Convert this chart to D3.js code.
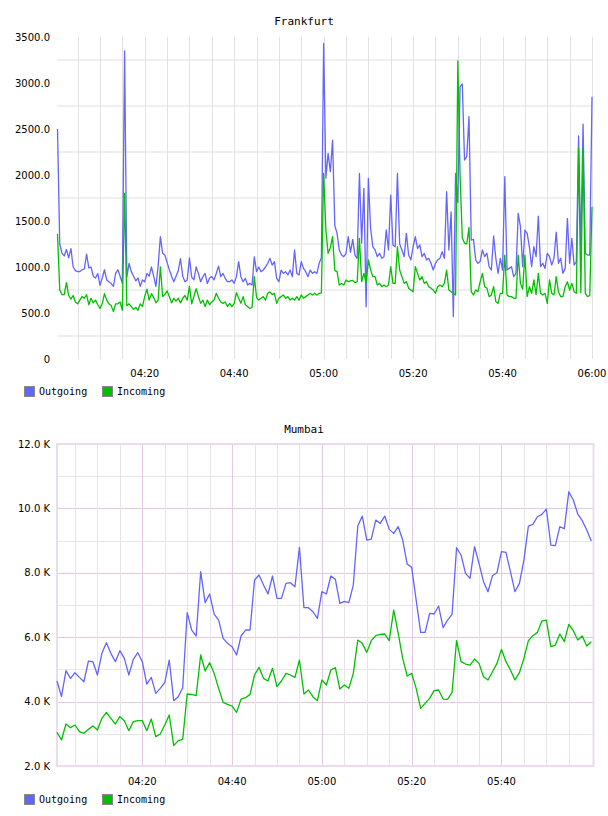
<!DOCTYPE html>
<html>
<head>
<meta charset="utf-8">
<script src="https://cdn.jsdelivr.net/npm/d3@7"></script>
<style>
    body { margin: 0; background: #fff; }
    .tick-label { font-family: "DejaVu Sans", sans-serif; font-size: 10px; fill: #000; }
    .title { font-family: "DejaVu Sans Mono", monospace; font-size: 11px; fill: #000; }
    .legend-label { font-family: "DejaVu Sans Mono", monospace; font-size: 10px; fill: #000; }
</style>
</head>
<body>
<svg id="chart" width="608" height="816"></svg>
<script>
// Frankfurt: one sample every 30 seconds, first one at 04:00:30
var frankfurtOutgoing = [
    2500, 1250, 1150, 1120, 1190, 1100, 1200, 1000, 960, 950,
    950, 970, 980, 1140, 990, 1000, 900, 880, 930, 800,
    880, 970, 860, 840, 820, 790, 930, 970, 900, 820,
    3350, 890, 1040, 950, 900, 850, 880, 790, 860, 840,
    930, 900, 1000, 900, 790, 1010, 1330, 1150, 1130, 1050,
    970, 900, 840, 900, 960, 1090, 900, 840, 860, 1100,
    890, 860, 1000, 930, 840, 895, 930, 820, 880, 895,
    860, 930, 1010, 895, 930, 877, 840, 840, 860, 822,
    895, 1058, 895, 840, 877, 804, 822, 804, 1110, 950,
    1000, 949, 967, 1000, 1040, 1094, 1020, 1058, 877, 840,
    967, 931, 949, 913, 967, 895, 1185, 931, 913, 1058,
    985, 949, 895, 967, 931, 949, 931, 1040, 1100, 3430,
    1964, 2235, 2036, 2380, 1450, 1366, 1185, 1130, 1112, 1148,
    1330, 1160, 1300, 1130, 1094, 2018, 1260, 1855, 569, 1964,
    1420, 1220, 1185, 1112, 1148, 1094, 1112, 1402, 1185, 1782,
    1240, 1220, 2018, 1250, 1185, 1112, 1366, 1130, 1076, 1220,
    1330, 1200, 1240, 1112, 1148, 1076, 1094, 1040, 967, 1040,
    1076, 1094, 1167, 1094, 1819, 1185, 1600, 460, 2018, 1700,
    2960, 2989, 2163, 2200, 2634, 1293, 1300, 1076, 1040, 1060,
    1185, 1112, 1150, 1003, 967, 1337, 1094, 931, 1094, 967,
    1982, 967, 985, 1003, 895, 931, 1583, 1438, 1003, 1402,
    1366, 1220, 1003, 1220, 1112, 1554, 1003, 1040, 985, 1148,
    1112, 1021, 1094, 1380, 1040, 1094, 931, 985, 1529, 1040,
    1311, 1021, 1058, 2424, 1200, 2554, 1148, 1130, 1130, 2851
];
var frankfurtIncoming = [
    1360, 750, 700, 700, 830, 690, 650, 690, 620, 600,
    640, 680, 660, 700, 590, 660, 610, 640, 590, 550,
    600, 710, 640, 600, 580, 515, 600, 600, 620, 530,
    1800, 580, 600, 570, 540, 560, 530, 600, 570, 680,
    760, 640, 710, 670, 610, 640, 1000, 680, 700, 740,
    680, 610, 660, 630, 660, 610, 660, 690, 640, 790,
    600, 680, 765, 680, 605, 640, 570, 640, 590, 620,
    640, 714, 660, 620, 605, 620, 570, 605, 570, 605,
    720, 660, 605, 678, 590, 570, 550, 560, 895, 670,
    640, 660, 678, 640, 714, 730, 700, 714, 605, 660,
    678, 696, 660, 678, 640, 660, 640, 678, 640, 696,
    660, 678, 696, 714, 696, 714, 696, 714, 720, 2018,
    1402, 1148, 1210, 1330, 960, 949, 804, 820, 804, 859,
    840, 850, 855, 830, 840, 1311, 840, 931, 822, 1076,
    970, 895, 895, 804, 822, 786, 804, 786, 804, 1003,
    822, 822, 1221, 967, 895, 822, 840, 770, 750, 732,
    1003, 931, 859, 895, 822, 840, 786, 770, 750, 714,
    786, 804, 786, 822, 967, 750, 732, 714, 696, 3239,
    2000, 1315, 1260, 1250, 1430, 730, 696, 750, 732, 840,
    931, 786, 770, 678, 696, 786, 623, 605, 714, 714,
    1130, 696, 678, 678, 660, 660, 1130, 822, 760, 1130,
    678, 786, 714, 860, 700, 931, 714, 696, 714, 605,
    859, 714, 696, 895, 732, 678, 678, 786, 840, 750,
    822, 732, 714, 2290, 720, 2290, 714, 678, 690, 1656
];

// Mumbai: one sample per minute, first one at 04:01
var mumbaiOutgoing = [
    4639, 4153, 4960, 4722, 4898, 4753, 4618, 5260, 5240, 4826,
    5498, 5830, 5498, 5240, 5581, 5343, 4826, 5312, 5519, 5240,
    4546, 4753, 4256, 4412, 4588, 5291, 4029, 4153, 4432, 6761,
    6223, 6037, 8034, 7072, 7341, 6720, 6533, 5964, 5809, 5705,
    5447, 6037, 6223, 6223, 7775, 7931, 7620, 7341, 7900, 7206,
    7206, 7672, 7693, 7568, 8790, 6916, 6916, 6792, 6585, 7413,
    7341, 7900, 7796, 7051, 7113, 7072, 7620, 9452, 9762, 9017,
    9048, 9638, 9535, 9762, 9349, 9224, 9431, 9017, 8272, 8169,
    7154, 6150, 6150, 6740, 6720, 6968, 6295, 6533, 6709, 8779,
    8552, 7982, 7827, 8810, 8293, 7724, 7413, 7910, 8003, 8655,
    8634, 8034, 7413, 7672, 8396, 9452, 9504, 9742, 9814, 9980,
    8862, 8841, 9431, 9369, 10517, 10259, 9824, 9617, 9328, 8986
];
var mumbaiIncoming = [
    3045, 2807, 3304, 3190, 3273, 3066, 3014, 3138, 3242, 3118,
    3480, 3666, 3480, 3304, 3532, 3408, 3097, 3377, 3408, 3408,
    3097, 3459, 2911, 2994, 3273, 3584, 2631, 2787, 2828, 4236,
    4225, 4184, 5447, 4950, 5209, 4877, 4412, 3977, 3915, 3863,
    3666, 4080, 4122, 4225, 4826, 5064, 4722, 4639, 5033, 4463,
    4639, 4877, 4826, 4753, 5291, 4236, 4360, 4153, 4029, 4670,
    4515, 4981, 5053, 4391, 4515, 4412, 4877, 5912, 5809, 5529,
    5892, 6047, 6088, 6099, 5892, 6844, 6119, 5343, 4795, 4877,
    4412, 3790, 3946, 4101, 4339, 4360, 4080, 4070, 4287, 5892,
    5240, 5167, 5136, 5322, 5188, 4774, 4670, 4929, 5188, 5623,
    5240, 4981, 4670, 4898, 5343, 5892, 6047, 6150, 6502, 6533,
    5705, 5757, 6099, 5861, 6399, 6202, 5912, 6037, 5726, 5861
];

// Axis values and labels
var frankfurtYTicks = [0, 500, 1000, 1500, 2000, 2500, 3000, 3500];
var frankfurtGridValues = [250, 750, 1250, 1750, 2250, 2750, 3250];
var mumbaiYTicks = [2000, 4000, 6000, 8000, 10000, 12000];
var mumbaiMinorValues = [3000, 5000, 7000, 9000, 11000];
var frankfurtTimeLabels = ["04:20", "04:40", "05:00", "05:20", "05:40", "06:00"];
var mumbaiTimeLabels = ["04:20", "04:40", "05:00", "05:20", "05:40"];
var seriesNames = ["Outgoing", "Incoming"];
var seriesColors = ["#6464ff", "#00c000"];

var parseTime = d3.utcParse("%H:%M:%S");
var parseLabel = d3.utcParse("%H:%M");

// Turn a list of values into {t, v} points
function toPoints(values, start, stepSeconds) {
    return values.map(function (v, i) {
        return { t: new Date(start.getTime() + i * stepSeconds * 1000), v: v };
    });
}

// Draw the two coloured lines
function drawLines(g, series, x, y) {
    var line = d3.line()
        .x(function (d) { return x(d.t); })
        .y(function (d) { return y(d.v); });

    series.forEach(function (points, i) {
        g.append("path")
            .datum(points)
            .attr("fill", "none")
            .attr("stroke", seriesColors[i])
            .attr("stroke-width", 1.3)
            .attr("stroke-linejoin", "round")
            .attr("d", line);
    });
}

// Title, y labels, time labels
function drawText(g, title, titleY, x, y, yTicks, yFormat, timeLabels, labelY) {
    g.append("text")
        .attr("class", "title")
        .attr("x", 304)
        .attr("y", titleY)
        .attr("text-anchor", "middle")
        .text(title);

    g.selectAll(".ylabel")
        .data(yTicks)
        .enter().append("text")
        .attr("class", "tick-label")
        .attr("x", 50)
        .attr("y", function (d) { return y(d); })
        .attr("dy", "0.35em")
        .attr("text-anchor", "end")
        .text(yFormat);

    g.selectAll(".xlabel")
        .data(timeLabels)
        .enter().append("text")
        .attr("class", "tick-label")
        .attr("x", function (d) { return x(parseLabel(d)); })
        .attr("y", labelY)
        .attr("text-anchor", "middle")
        .text(function (d) { return d; });
}

// Legend below each chart
function drawLegend(g, top) {
    var items = g.selectAll(".legend")
        .data(seriesNames)
        .enter().append("g")
        .attr("transform", function (d, i) { return "translate(" + (24 + i * 78) + "," + top + ")"; });

    items.append("rect")
        .attr("x", 0.5)
        .attr("y", 0.5)
        .attr("width", 10)
        .attr("height", 10)
        .attr("fill", function (d, i) { return seriesColors[i]; })
        .attr("stroke", "#8a8a8a");

    items.append("text")
        .attr("class", "legend-label")
        .attr("x", 15)
        .attr("y", 9)
        .text(function (d) { return d; });
}

// Create the Frankfurt chart
function createFrankfurtChart(svg) {
    var g = svg.append("g");
    var start = parseTime("04:00:30");

    var x = d3.scaleUtc()
        .domain([start, parseTime("06:00:00")])
        .range([57.5, 592]);

    var y = d3.scaleLinear()
        .domain([0, 3500])
        .range([359, 37]);

    // horizontal grid sits between the labelled values
    g.selectAll(".hgrid")
        .data(frankfurtGridValues)
        .enter().append("line")
        .attr("x1", 57)
        .attr("x2", 593)
        .attr("y1", function (d) { return y(d); })
        .attr("y2", function (d) { return y(d); })
        .attr("stroke", "#efefef")
        .attr("stroke-width", 2);

    // vertical grid every five minutes
    var gridTimes = d3.utcMinute.every(5).range(x.domain()[0], new Date(+x.domain()[1] + 1));
    g.selectAll(".vgrid")
        .data(gridTimes)
        .enter().append("line")
        .attr("x1", function (d) { return Math.round(x(d)) + 0.5; })
        .attr("x2", function (d) { return Math.round(x(d)) + 0.5; })
        .attr("y1", 37)
        .attr("y2", 359)
        .attr("stroke", "#e2e2e2")
        .attr("stroke-width", 1);

    drawLines(g, [toPoints(frankfurtOutgoing, start, 30), toPoints(frankfurtIncoming, start, 30)], x, y);

    drawText(g, "Frankfurt", 25, x, y, frankfurtYTicks,
        function (d) { return d === 0 ? "0" : d3.format(".1f")(d); },
        frankfurtTimeLabels, 377);

    drawLegend(g, 386);
}

// Create the Mumbai chart
function createMumbaiChart(svg) {
    var g = svg.append("g");
    var start = parseTime("04:01:00");

    var x = d3.scaleUtc()
        .domain([start, parseTime("06:00:30")])
        .range([57, 593.5]);

    var y = d3.scaleLinear()
        .domain([2000, 12000])
        .range([766, 444]);

    // minor horizontal lines (grey) and major ones (pink)
    g.selectAll(".hminor")
        .data(mumbaiMinorValues)
        .enter().append("line")
        .attr("x1", 57).attr("x2", 593.5)
        .attr("y1", function (d) { return Math.round(y(d)) + 0.5; })
        .attr("y2", function (d) { return Math.round(y(d)) + 0.5; })
        .attr("stroke", "#e6e6e6");

    g.selectAll(".hmajor")
        .data(mumbaiYTicks.slice(1, -1))
        .enter().append("line")
        .attr("x1", 57).attr("x2", 593.5)
        .attr("y1", function (d) { return Math.round(y(d)) + 0.5; })
        .attr("y2", function (d) { return Math.round(y(d)) + 0.5; })
        .attr("stroke", "#e2c8e2");

    // vertical lines every five minutes, stronger every twenty
    var gridTimes = d3.utcMinute.every(5).range(x.domain()[0], parseTime("06:00:00"));
    g.selectAll(".vgrid")
        .data(gridTimes)
        .enter().append("line")
        .attr("x1", function (d) { return Math.round(x(d)) + 0.5; })
        .attr("x2", function (d) { return Math.round(x(d)) + 0.5; })
        .attr("y1", 444)
        .attr("y2", 766)
        .attr("stroke", function (d) { return d.getUTCMinutes() % 20 === 0 ? "#e2c8e2" : "#e6e6e6"; });

    // frame
    g.append("rect")
        .attr("x", 57)
        .attr("y", 444)
        .attr("width", 593.5 - 57)
        .attr("height", 766 - 444)
        .attr("fill", "none")
        .attr("stroke", "#eadcea")
        .attr("stroke-width", 2);

    drawLines(g, [toPoints(mumbaiOutgoing, start, 60), toPoints(mumbaiIncoming, start, 60)], x, y);

    drawText(g, "Mumbai", 433, x, y, mumbaiYTicks,
        function (d) { return d3.format(".1f")(d / 1000) + " K"; },
        mumbaiTimeLabels, 785);

    drawLegend(g, 794);
}

var svg = d3.select("#chart");
svg.append("rect").attr("width", 608).attr("height", 816).attr("fill", "#fff");
createFrankfurtChart(svg);
createMumbaiChart(svg);
</script>
</body>
</html>
